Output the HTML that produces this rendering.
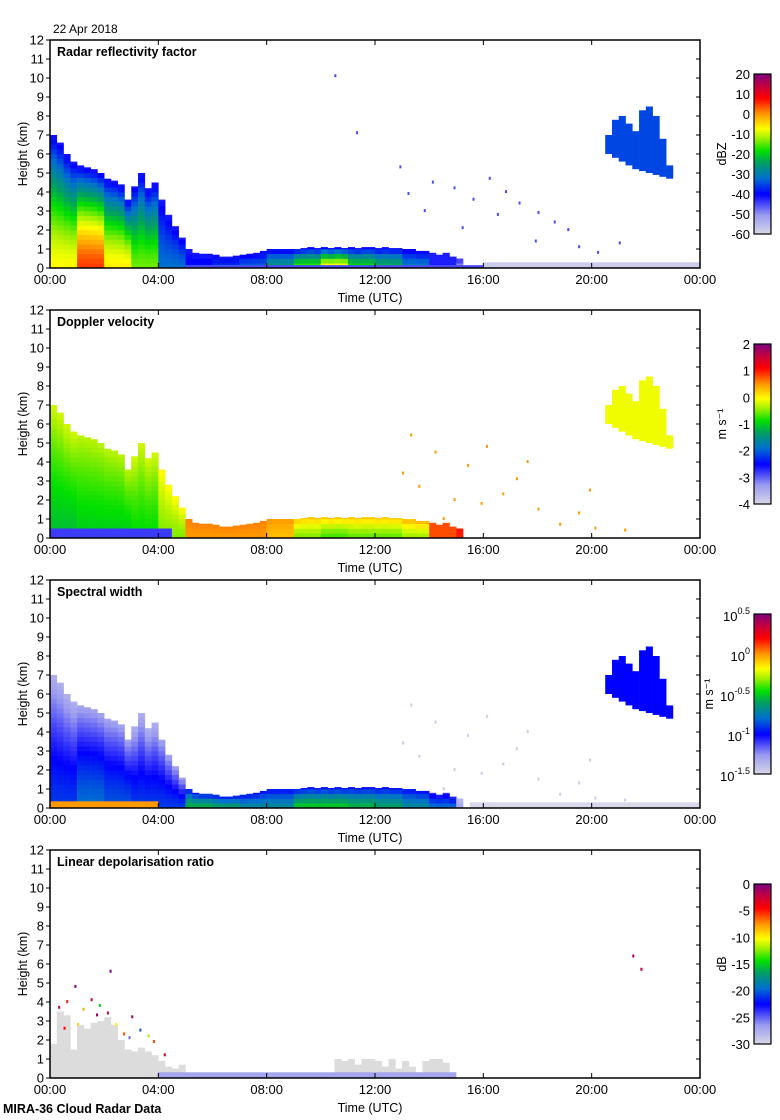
<!DOCTYPE html>
<html><head><meta charset="utf-8"><style>
html,body{margin:0;padding:0;background:#fff;}
svg{display:block;font-family:"Liberation Sans",sans-serif;}
</style></head><body>
<svg id="fig" width="780" height="1120" viewBox="0 0 780 1120" xmlns="http://www.w3.org/2000/svg">
<text x="53" y="33" font-size="12">22 Apr 2018</text>
<text x="3" y="1113" font-size="12.5" font-weight="bold">MIRA-36 Cloud Radar Data</text>
<g id="layers"></g>
</svg>
<script>
// ---- data (15-min bins for echo top, hourly for values) ----
const echoTop = [7.0,6.6,6.0,5.6, 5.4,5.3,5.2,5.0, 4.7,4.6,4.4,3.6, 4.3,5.0,4.2,4.5, 3.6,2.8,2.2,1.6, 1.0,0.8,0.75,0.75, 0.7,0.6,0.6,0.65, 0.7,0.75,0.8,0.9, 1.0,1.0,1.0,1.0, 1.0,1.05,1.1,1.05, 1.1,1.05,1.1,1.05, 1.1,1.05,1.1,1.1, 1.05,1.1,1.05,1.05, 1.0,1.0,0.9,0.9, 0.8,0.7,0.8,0.6, 0.5,0,0,0, 0,0,0,0, 0,0,0,0, 0,0,0,0, 0,0,0,0, 0,0,0,0, 0,0,0,0, 0,0,0,0, 0,0,0,0];
const dbzLowH = [-7,5,-6,-14,-32,-39,-36,-33,-25,-16,-6,-18,-22,-30,-42,-50,-60,-60,-60,-60,-60,-60,-60,-60];
const velLowH = [-1.1,-1.0,-1.0,-0.9,-0.5,0.5,0.5,0.5,0.3,-0.5,-0.7,-0.6,-0.6,-0.4,0.8,1.0,0,0,0,0,0,0,0,0];
const velTopH = [-0.2,-0.3,-0.3,-0.2,0.0,0.6,0.6,0.6,0.5,0.3,0.3,0.3,0.3,0.4,0.8,1.0,0,0,0,0,0,0,0,0];
const wLowH = [-0.9,-0.8,-0.85,-0.9,-0.9,-0.55,-0.6,-0.7,-0.7,-0.5,-0.5,-0.55,-0.6,-0.7,-0.8,-1.3,-1.4,-1.4,-1.4,-1.4,-1.4,-1.4,-1.4,-1.4];
const wTopH = [-1.35,-1.3,-1.3,-1.35,-1.3,-1.0,-1.0,-1.0,-1.0,-1.0,-1.0,-1.0,-1.0,-1.0,-1.1,-1.4,-1.4,-1.4,-1.4,-1.4,-1.4,-1.4,-1.4,-1.4];
const ldrGray = [1.8,3.5,3.3,1.5, 2.8,2.6,2.9,3.0, 3.2,2.8,2.0,1.5, 1.4,1.6,1.4,1.2, 0.9,0.6,0.5,0.7, 0.2,0,0,0, 0,0,0,0, 0,0,0,0, 0,0,0,0, 0,0,0,0, 0,0,1.0,0.9, 1.0,0.7,1.0,1.0, 0.9,0.6,1.0,0.5, 0.9,0.6,0.3,0.9, 1.0,1.0,0.8,0.3, 0,0,0,0, 0,0,0,0, 0,0,0,0, 0,0,0,0, 0,0,0,0, 0,0,0,0, 0,0,0,0, 0,0,0,0];
// elevated cloud 20:30-23:00 (bins 82..91)
const upStartBin = 82;
const upBase = [6.0,5.8,5.6,5.4,5.2,5.1,5.0,4.9,4.8,4.7];
const upTop  = [7.0,7.8,8.0,7.6,7.2,8.3,8.5,8.0,6.8,5.4];
const upVals = [-35,-0.1,-1.0];
// surface bands: [panel, startHour, endHour, topKm, value]
const surfBands = [[0,16,24,0.3,-58],[0,5,16,0.15,-45],[1,0,4.5,0.5,-2.8],[2,0,4,0.35,0.0],[2,15.5,24,0.3,-1.5],[3,4,15,0.3,-27]];
// speckles
const dot1T=[13.2,14.1,14.9,15.6,16.2,16.8,17.3,18.0,18.6,19.1,13.8,15.2,17.9,12.9,16.5,11.3,10.5,19.5,20.2,21.0];
const dot1H=[4.0,4.6,4.3,3.7,4.8,4.1,3.5,3.0,2.5,2.1,3.1,2.2,1.5,5.4,2.9,7.2,10.2,1.2,0.9,1.4];
const dot2T=[13.0,13.6,14.2,14.9,15.4,16.1,16.7,17.2,18.0,18.8,19.5,20.1,21.2,14.5,15.9,17.6,19.9,13.3];
const dot2H=[3.5,2.8,4.6,2.1,3.9,4.9,2.4,3.2,1.6,0.8,1.4,0.6,0.5,1.1,1.9,4.1,2.6,5.5];
const dot4T=[0.3,0.6,0.9,1.2,1.5,1.8,2.1,2.4,2.7,3.0,3.3,3.6,0.5,1.0,1.7,2.2,2.9,3.8,4.2,21.5,21.8];
const dot4H=[3.8,4.1,4.9,3.7,4.2,3.9,3.5,2.9,2.4,3.3,2.6,2.3,2.7,2.9,3.4,5.7,2.2,2.0,1.3,6.5,5.8];
const dot4V=[-2,-5,0,-8,-3,-15,-2,-10,-6,-1,-20,-12,-4,-9,-1,0,-25,-6,-3,-1,-2];

// ---- layout ----
const X0=50, PW=650, PH=228, tops=[40,310,580,850];
const ranges=[[-60,20],[-4,2],[-1.5,0.5],[-30,0]];
const titles=["Radar reflectivity factor","Doppler velocity","Spectral width","Linear depolarisation ratio"];
const xs=h=>X0+h/24*PW;
const ys=(p,km)=>tops[p]+PH-km*PH/12;
const stops=[[0,[216,216,232]],[0.12,[154,154,240]],[0.25,[0,0,255]],[0.35,[0,112,208]],[0.45,[0,160,96]],[0.52,[0,224,0]],[0.6,[160,240,0]],[0.66,[255,255,0]],[0.75,[255,153,0]],[0.85,[255,0,0]],[0.93,[192,0,64]],[1,[128,0,128]]];
function cmap(t){t=Math.max(0,Math.min(1,t));for(let i=1;i<stops.length;i++){if(t<=stops[i][0]){const a=stops[i-1],b=stops[i],f=(t-a[0])/(b[0]-a[0]);return 'rgb('+a[1].map((c,k)=>Math.round(c+(b[1][k]-c)*f)).join(',')+')';}}return 'rgb(128,0,128)';}
const col=(p,v)=>cmap((v-ranges[p][0])/(ranges[p][1]-ranges[p][0]));
const NS='http://www.w3.org/2000/svg';
const L=document.getElementById('layers');
function mk(tag,attrs,parent){const e=document.createElementNS(NS,tag);for(const k in attrs)e.setAttribute(k,attrs[k]);(parent||L).appendChild(e);return e;}

const bw=PW/96, dz=0.25;
for(let p=0;p<4;p++){
  const g=mk('g',{});
  
  
  const data=mk('g',{},g);
  
  
  for(let i=0;i<96;i++){
    const t=i*0.25, hr=Math.floor(t);
    if(p===3){
      const gt=ldrGray[i];
      if(gt>0){const r=mk('rect',{x:xs(t),y:ys(3,gt),width:bw+0.3,height:gt*PH/12,fill:'#dcdcdc'},data);
        
        }
      continue;
    }
    const top=echoTop[i]; if(top<=0) continue;
    let lo,hi;
    if(p===0){lo=dbzLowH[hr];hi=-42;}
    else if(p===1){lo=velLowH[hr];hi=velTopH[hr];}
    else {lo=wLowH[hr];hi=wTopH[hr];}
    for(let h=0;h<top;h+=dz){
      const hh=Math.min(dz,top-h), f=(h+hh/2)/top;
      const v=lo+(hi-lo)*Math.pow(f,1.5);
      const r=mk('rect',{x:xs(t),y:ys(p,h+hh),width:bw+0.3,height:hh*PH/12+0.3,fill:col(p,v)},data);
      
      
    }
  }
  if(p<3){
    for(let j=0;j<upBase.length;j++){
      const t=(upStartBin+j)*0.25;
      const r=mk('rect',{x:xs(t),y:ys(p,upTop[j]),width:bw+0.3,height:(upTop[j]-upBase[j])*PH/12,fill:col(p,upVals[p])},data);
      
      
    }
  }
  surfBands.forEach(b=>{ if(b[0]!==p) return;
    const r=mk('rect',{x:xs(b[1]),y:ys(p,b[3]),width:xs(b[2])-xs(b[1]),height:b[3]*PH/12,fill:col(p,b[4])},data);
    
    
  });
  let DT=[],DH=[],DV=[];
  if(p===0){DT=dot1T;DH=dot1H;DV=DT.map(()=>-45);}
  if(p===1){DT=dot2T;DH=dot2H;DV=DT.map(()=>0.5);}
  if(p===2){DT=dot2T;DH=dot2H;DV=DT.map(()=>-1.45);}
  if(p===3){DT=dot4T;DH=dot4H;DV=dot4V;}
  for(let k=0;k<DT.length;k++){
    const r=mk('rect',{x:xs(DT[k]),y:ys(p,DH[k]),width:2,height:3,fill:col(p,DV[k])},data);
    
    
  }
  const T=tops[p];
  const ax=mk('g',{stroke:'#000','stroke-width':1.5,fill:'none'},g);
  
  
  mk('path',{d:`M${X0} ${T}H${X0+PW}V${T+PH}H${X0}Z`},ax);
  for(let k=0;k<=12;k++){const y=ys(p,k);mk('path',{d:`M${X0-4} ${y}H${X0}M${X0+PW} ${y}H${X0+PW-4}`,'stroke-width':1},ax);
    const tl=mk('text',{x:X0-6,y:y+4.5,'font-size':13,'text-anchor':'end',fill:'#000',stroke:'none'},g);tl.textContent=k;
    
    }
  for(let k=0;k<=6;k++){const x=xs(k*4);mk('path',{d:`M${x} ${T}v5M${x} ${T+PH}v-5`,'stroke-width':1},ax);
    const tl=mk('text',{x:x,y:T+PH+16,'font-size':13,'text-anchor':'middle',fill:'#000'},g);tl.textContent=(k===6?'00':String(k*4).padStart(2,'0'))+':00';
    
    }
  const xt=mk('text',{x:370,y:T+PH+34,'font-size':12.5,'text-anchor':'middle'},g);xt.textContent='Time (UTC)';
  
  
  const yt=mk('text',{x:0,y:0,'font-size':12.5,'text-anchor':'middle',transform:`translate(27 ${T+PH/2}) rotate(-90)`},g);yt.textContent='Height (km)';
  
  
  const tt=mk('text',{x:57,y:T+16,'font-size':12.5,'font-weight':'bold'},g);tt.textContent=titles[p];
  
  
  const cb=mk('g',{},g);
  
  
  const cy=T+34, ch=160;
  for(let s=0;s<80;s++){mk('rect',{x:754,y:cy+ch-(s+1)*2,width:17,height:2.3,fill:cmap((s+0.5)/80)},cb);}
  mk('rect',{x:754,y:cy,width:17,height:ch,fill:'none',stroke:'#000','stroke-width':1.2},cb);
  let labs=[],unit='';
  if(p===0){labs=['20','10','0','-10','-20','-30','-40','-50','-60'];unit='dBZ';}
  if(p===1){labs=['2','1','0','-1','-2','-3','-4'];unit='m s⁻¹';}
  if(p===2){labs=['0.5','0','-0.5','-1','-1.5'];unit='m s⁻¹';}
  if(p===3){labs=['0','-5','-10','-15','-20','-25','-30'];unit='dB';}
  labs.forEach((lb,k)=>{const y=cy+k*ch/(labs.length-1);
    const tl=mk('text',{x:750,y:y+5,'font-size':13,'text-anchor':'end'},cb);
    
    
    if(p===2){tl.setAttribute('y',y+7);const a=mk('tspan',{},tl);a.textContent='10';const sp=mk('tspan',{dy:-7,'font-size':9},tl);sp.textContent=lb;}
    else tl.textContent=lb;});
  const ul=mk('text',{x:0,y:0,'font-size':12.5,'text-anchor':'middle',transform:`translate(${p===2?713:726} ${cy+ch/2}) rotate(-90)`},cb);ul.textContent=unit;
  
  
}
</script>
</body></html>
